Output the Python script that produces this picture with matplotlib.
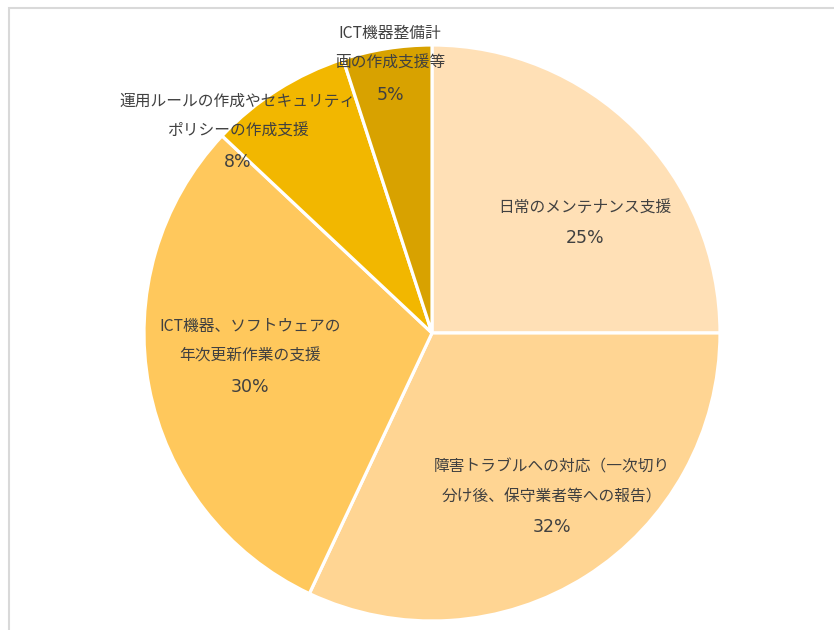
import matplotlib
matplotlib.use("Agg")
import matplotlib.pyplot as plt
from matplotlib.patches import Rectangle

plt.rcParams['font.family'] = ['Noto Sans CJK JP', 'DejaVu Sans']

# slice data (clockwise from 12 o'clock)
categories = [
    '日常のメンテナンス支援',
    '障害トラブルへの対応（一次切り\n分け後、保守業者等への報告）',
    'ICT機器、ソフトウェアの\n年次更新作業の支援',
    '運用ルールの作成やセキュリティ\nポリシーの作成支援',
    'ICT機器整備計\n画の作成支援等',
]
values = [25, 32, 30, 8, 5]
colors = ['#FFE0B6', '#FFD593', '#FFC85C', '#F2B700', '#D8A200']

# label positions in pixels of the 834x630 image: (x, label centre y, pct y)
label_px = [(585, 208, 238), (552, 482, 527), (250, 341, 387),
            (238, 116, 162), (390, 48, 95)]

W, H = 834, 630
cx, cy, r = 432, 333, 288

fig = plt.figure(figsize=(W / 100, H / 100), dpi=100)
ax = fig.add_axes([0, 0, 1, 1])

ax.pie(values, colors=colors, startangle=90, counterclock=False,
       radius=1.0, center=(0, 0),
       wedgeprops=dict(edgecolor='white', linewidth=2.3))

for lab, v, (px, py, pp) in zip(categories, values, label_px):
    x = (px - cx) / r
    ax.text(x, (cy - py) / r, lab, ha='center', va='center',
            fontsize=11.3, color='#404040', linespacing=1.95)
    ax.text(x, (cy - pp) / r, f'{v}%', ha='center', va='center',
            fontsize=12.5, color='#404040', family=['DejaVu Sans'])

ax.set_xlim(-cx / r, (W - cx) / r)
ax.set_ylim((cy - H) / r, cy / r)
ax.set_aspect('auto')
ax.axis('off')

# chart-area border (runs off the right and bottom of the image)
fig.patches.append(Rectangle((9 / W, -0.1), 1.2, 1.1 - 8 / H,
                             transform=fig.transFigure, fill=False,
                             edgecolor='#D9D9D9', linewidth=1.5))

fig.savefig('out.png', dpi=100, facecolor='white')
